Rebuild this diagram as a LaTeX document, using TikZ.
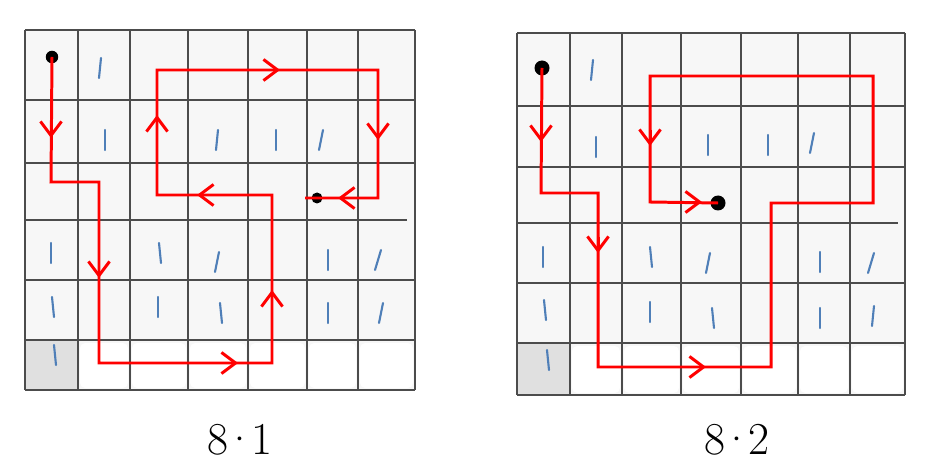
\documentclass[tikz,border=0pt]{standalone}
\usetikzlibrary{arrows.meta}
\definecolor{tickblue}{HTML}{4F7FB8}

\begin{document}
\begin{tikzpicture}[x=0.02cm, y=-0.02cm,
  gridline/.style={draw=black!70, line width=1.1pt},
  route/.style={draw=red, line width=1.7pt},
  chev/.style={draw=red, line width=1.7pt, -{Straight Barb[length=8pt,width=12pt]}},
  tick/.style={draw=tickblue, line width=1.2pt, line cap=round},
  dot/.style={circle, fill=black, inner sep=0pt, minimum size=#1},
  dot/.default=0.22cm,
  caption/.style={font=\fontsize{26}{26}\selectfont}]
\useasboundingbox (0,0) rectangle (939,462);

% grid 8.1
\fill[black!3] (25,30) rectangle (415,390);
\fill[black!12] (25,340) rectangle (78,390);
\foreach \a/\b in {78/130,130/188,188/248,248/307,307/358,358/415}
  \fill[white, rounded corners=3pt] (\a+2,343) rectangle (\b-2,388);
\foreach \x in {25,78,130,188,248,307,358,415}
  \draw[gridline] (\x,30) -- (\x,390);
\foreach \y in {30,100,163,280,340,390}
  \draw[gridline] (25,\y) -- (415,\y);
\draw[gridline] (25,220) -- (407,220);
\foreach \x/\y/\s in {100/68/1, 105/140/0, 217/140/1, 276/140/0, 321/140/2,
  51/253/0, 160/253/-1, 217/262/2, 328/260/0, 378/260/3,
  53/307/-1, 158/307/0, 221/313/-1, 328/313/0, 381/313/2, 55/355/-1}
  \draw[tick] (\x-\s,\y+10) -- (\x+\s,\y-10);

\node[dot=0.25cm] (s1) at (52,57) {};
\node[dot=0.22cm] (e1) at (317,198) {};
\draw[route] (s1.center) -- (51,182) -- (99,182) -- (99,363) -- (272,363)
  -- (272,195) -- (157,195) -- (157,70) -- (378,70) -- (378,198) -- (e1.center) -- ++(-12,0);
\draw[chev] (51,122) -- (51,138);
\draw[chev] (99,262) -- (99,278);
\draw[chev] (222,363) -- (238,363);
\draw[chev] (272,306) -- (272,290);
\draw[chev] (213,195) -- (197,195);
\draw[chev] (157,131) -- (157,115);
\draw[chev] (264,70) -- (280,70);
\draw[chev] (378,124) -- (378,140);
\draw[chev] (354,198) -- (338,198);

% grid 8.2
\fill[black!3] (517,33) rectangle (905,395);
\fill[black!12] (517,343) rectangle (570,395);
\foreach \a/\b in {570/622,622/681,681/741,741/798,798/850,850/905}
  \fill[white, rounded corners=3pt] (\a+2,346) rectangle (\b-2,393);
\foreach \x in {517,570,622,681,741,798,850,905}
  \draw[gridline] (\x,33) -- (\x,395);
\foreach \y in {33,106,167,283,343,395}
  \draw[gridline] (517,\y) -- (905,\y);
\draw[gridline] (517,223) -- (898,223);
\foreach \x/\y/\s in {592/70/1, 596/147/0, 708/145/0, 768/145/0, 812/143/2,
  543/257/0, 651/257/-1, 708/263/2, 820/262/0, 871/263/3,
  545/310/-1, 650/312/0, 713/318/-1, 820/318/0, 873/316/1, 548/360/-1}
  \draw[tick] (\x-\s,\y+10) -- (\x+\s,\y-10);

\node[dot=0.3cm] (s2) at (542,68) {};
\node[dot=0.3cm] (e2) at (718,203) {};
\draw[route] (s2.center) -- (541,193) -- (598,193) -- (598,367) -- (771,367)
  -- (771,203) -- (873,203) -- (873,76) -- (650,76) -- (650,202) -- (e2.center);
\draw[chev] (541,126) -- (541,142);
\draw[chev] (598,237) -- (598,253);
\draw[chev] (690,367) -- (706,367);
\draw[chev] (650,130) -- (650,146);
\draw[chev] (686,202) -- (702,202);

% labels
\node[caption] (lab1) at (240,440) {8\kern-3pt·\kern-3pt1};
\node[caption] (lab2) at (737,440) {8\kern-3pt·\kern-3pt2};
\end{tikzpicture}
\end{document}
